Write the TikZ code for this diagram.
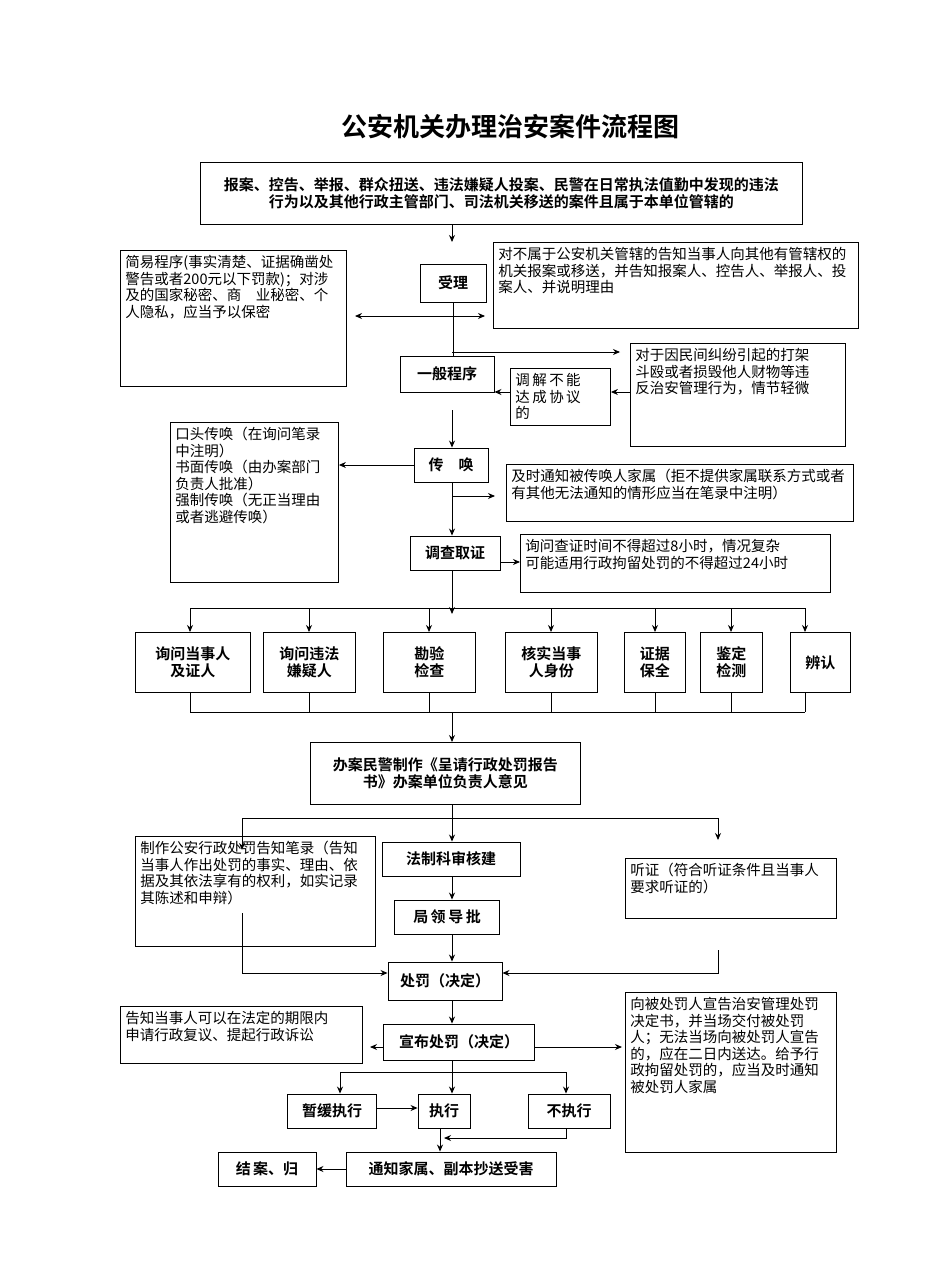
\documentclass[tikz,border=0pt]{standalone}
\usepackage{fontspec}
\setmainfont{Noto Sans CJK SC}
\newfontfamily\bfc{Noto Sans CJK SC Bold}
\XeTeXlinebreaklocale "zh"
\XeTeXlinebreakskip=0pt plus 1pt
\usetikzlibrary{arrows.meta}
\newcommand{\tbx}[3]{\parbox[c][#2][t]{#1}{\raggedright #3}}
\begin{document}
\begin{tikzpicture}[x=1pt,y=-1pt,
  box/.style={draw,line width=0.9pt,inner sep=5pt,anchor=north west,font=\fontsize{14.5}{16.5}\selectfont},
  bb/.style={draw,line width=0.9pt,inner sep=0pt,font=\bfc\fontsize{15}{17}\selectfont,align=center},
  ln/.style={line width=0.9pt},
  ar/.style={line width=0.9pt,-{Stealth[length=7pt,width=6pt]}}]
\useasboundingbox (0,0) rectangle (950,1281);
\node[font=\bfc\fontsize{26}{29}\selectfont] (title) at (510,127) {公安机关办理治安案件流程图};
\node[bb,minimum width=602,minimum height=62,anchor=north west] (top) at (200,162) {报案、控告、举报、群众扭送、违法嫌疑人投案、民警在日常执法值勤中发现的违法\\行为以及其他行政主管部门、司法机关移送的案件且属于本单位管辖的};
\node[bb,minimum width=66,minimum height=38] (sl) at (453,283) {受理};
\node[box] (jy) at (120,250) {\tbx{216pt}{126pt}{简易程序(事实清楚、证据确凿处警告或者200元以下罚款)；对涉及的国家秘密、商\hspace*{1em}业秘密、个人隐私，应当予以保密}};
\node[box] (bs) at (493,242) {\tbx{355pt}{76pt}{对不属于公安机关管辖的告知当事人向其他有管辖权的机关报案或移送，并告知报案人、控告人、举报人、投案人、并说明理由}};
\node[bb,minimum width=94,minimum height=36] (yb) at (447,374) {一般程序};
\node[box] (mj) at (630,343) {\tbx{205pt}{93pt}{对于因民间纠纷引起的打架\\斗殴或者损毁他人财物等违\\反治安管理行为，情节轻微}};
\node[box] (tj) at (510,368) {\tbx{90pt}{47pt}{调\,解\,不\,能\\达\,成\,协\,议\\的}};
\node[bb,minimum width=74,minimum height=34] (ch) at (451,465) {传\quad 唤};
\node[box] (ct) at (170,422) {\tbx{158pt}{150pt}{口头传唤（在询问笔录中注明）\\书面传唤（由办案部门负责人批准）\\强制传唤（无正当理由或者逃避传唤）}};
\node[box] (tz) at (506,464) {\tbx{337pt}{47pt}{及时通知被传唤人家属（拒不提供家属联系方式或者有其他无法通知的情形应当在笔录中注明）}};
\node[bb,minimum width=90,minimum height=34] (dc) at (455,553) {调查取证};
\node[box] (xw) at (520,534) {\tbx{300pt}{48pt}{询问查证时间不得超过8小时，情况复杂\\可能适用行政拘留处罚的不得超过24小时}};
\begin{scope}[every node/.style={bb,minimum height=60,anchor=north west}]
\node[minimum width=115] (b1) at (135,632) {询问当事人\\及证人};
\node[minimum width=92] (b2) at (263,632) {询问违法\\嫌疑人};
\node[minimum width=92] (b3) at (383,632) {勘验\\检查};
\node[minimum width=92] (b4) at (505,632) {核实当事\\人身份};
\node[minimum width=61] (b5) at (624,632) {证据\\保全};
\node[minimum width=62] (b6) at (700,632) {鉴定\\检测};
\node[minimum width=60] (b7) at (790,632) {辨认};
\end{scope}
\node[bb,minimum width=270,minimum height=62,anchor=north west] (bg) at (310,742) {办案民警制作《呈请行政处罚报告\\书》办案单位负责人意见};
\node[box] (zz) at (135,836) {\tbx{230pt}{100pt}{制作公安行政处罚告知笔录（告知当事人作出处罚的事实、理由、依据及其依法享有的权利，如实记录其陈述和申辩）}};
\node[bb,minimum width=138,minimum height=34] (fz) at (451,859) {法制科审核建};
\node[bb,minimum width=105,minimum height=34] (jl) at (447,917) {局\,领\,导\,批};
\node[box] (tzh) at (625,858) {\tbx{201pt}{50pt}{听证（符合听证条件且当事人要求听证的）}};
\node[bb,minimum width=114,minimum height=38] (cf) at (445,981) {处罚（决定）};
\node[bb,minimum width=151,minimum height=36] (xb) at (459,1042) {宣布处罚（决定）};
\node[box] (gz) at (120,1006) {\tbx{232pt}{47pt}{告知当事人可以在法定的期限内\\申请行政复议、提起行政诉讼}};
\node[box] (xg) at (625,992) {\tbx{201pt}{150pt}{向被处罚人宣告治安管理处罚决定书，并当场交付被处罚人；无法当场向被处罚人宣告的，应在二日内送达。给予行政拘留处罚的，应当及时通知被处罚人家属}};
\node[bb,minimum width=89,minimum height=34] (zh) at (332,1111) {暂缓执行};
\node[bb,minimum width=52,minimum height=34] (zx) at (444,1111) {执行};
\node[bb,minimum width=82,minimum height=34] (bz) at (569,1111) {不执行};
\node[bb,minimum width=210,minimum height=34] (tzj) at (451,1169) {通知家属、副本抄送受害};
\node[bb,minimum width=98,minimum height=34] (ja) at (267,1169) {结\,案、归};
% connectors
\draw[ar] (top.south -| 452,0) -- (452,242);
\draw[ln] (sl.south) -- (yb.north -| sl.south);
\draw[{Stealth[length=7pt,width=6pt]}-{Stealth[length=7pt,width=6pt]},line width=0.9pt] (355,316) -- (485,316);
\draw[ar] (452,352) -- (620,352);
\draw[ar] (mj.west |- 0,392) -- (tj.east |- 0,392);
\draw[ar] (tj.west |- 0,392) -- (yb.east |- 0,392);
\draw[ar] (452,410) -- (ch.north -| 452,0);
\draw[ar] (ch.west) -- (ct.east |- ch.west);
\draw[ar] (452,496) -- (495,496);
\draw[ar] (ch.south -| 452,0) -- (dc.north -| 452,0);
\draw[ar] (dc.east |- 0,562) -- (xw.west |- 0,562);
\draw[ar] (dc.south -| 452,0) -- (452,614);
\draw[ln] (190,608) -- (805,608);
\foreach \n/\x in {b1/190,b2/309,b3/429,b4/551,b5/655,b6/731,b7/805}{
  \draw[ar] (\x,608) -- (\n.north -| \x,0);
  \draw[ln] (\n.south -| \x,0) -- (\x,712);}
\draw[ln] (190,712) -- (805,712);
\draw[ar] (452,712) -- (bg.north -| 452,0);
\draw[ln] (bg.south -| 452,0) -- (452,818);
\draw[ln] (242,818) -- (718,818);
\draw[ar] (242,818) -- (242,850);
\draw[ar] (452,818) -- (fz.north -| 452,0);
\draw[ar] (718,818) -- (718,840);
\draw[ar] (fz.south -| 452,0) -- (jl.north -| 452,0);
\draw[ar] (jl.south -| 452,0) -- (cf.north -| 452,0);
\draw[ar] (242,913) -- (242,973) -- (cf.west |- 0,973);
\draw[ar] (718,950) -- (718,973) -- (cf.east |- 0,973);
\draw[ar] (cf.south -| 452,0) -- (xb.north -| 452,0);
\draw[ar] (xb.west |- 0,1047) -- (370,1047);
\draw[ar] (xb.east |- 0,1047) -- (622,1047);
\draw[ln] (340,1072) -- (566,1072);
\draw[ar] (340,1072) -- (zh.north -| 340,0);
\draw[ar] (452,1060) -- (zx.north -| 452,0);
\draw[ar] (566,1072) -- (bz.north -| 566,0);
\draw[ar] (zh.east |- 0,1108) -- (zx.west |- 0,1108);
\draw[ar] (zx.south -| 440,0) -- (tzj.north -| 440,0);
\draw[ar] (bz.south -| 566,0) -- (566,1138) -- (444,1138);
\draw[ar] (tzj.west) -- (ja.east);
\end{tikzpicture}
\end{document}
